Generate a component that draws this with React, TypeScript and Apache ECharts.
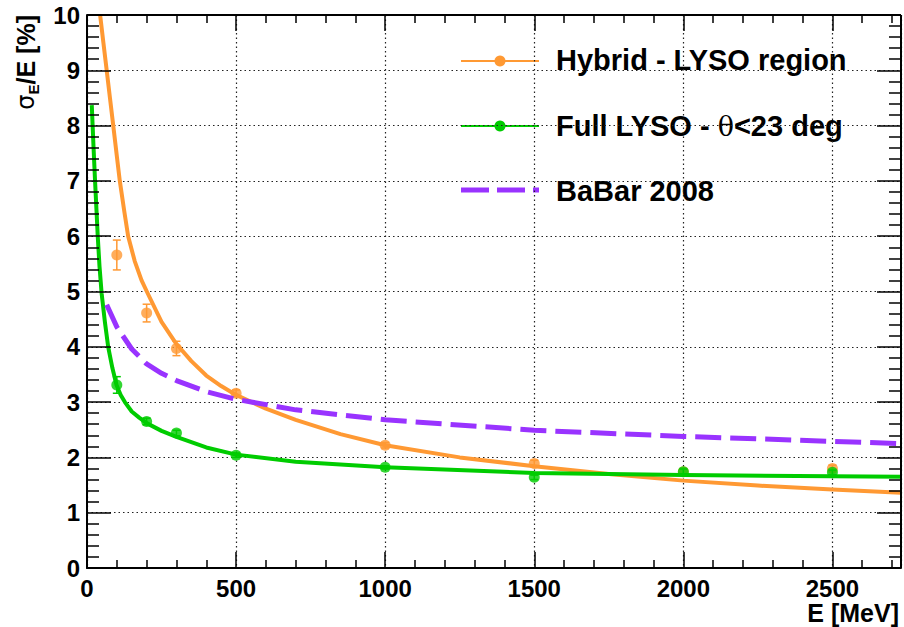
import React, { useEffect, useRef } from "react";
import * as echarts from "echarts";

// Measured points (E in MeV, resolution in %)
const energies = [100, 200, 300, 500, 1000, 1500, 2000, 2500];
const hybridRes = [5.66, 4.61, 3.97, 3.16, 2.22, 1.89, 1.74, 1.8];
const hybridErr = [0.27, 0.16, 0.13, 0.06, 0.05, 0.06, 0.05, 0.06];
const fullRes = [3.31, 2.65, 2.44, 2.04, 1.82, 1.64, 1.74, 1.73];
const fullErr = [0.15, 0.06, 0.05, 0.04, 0.03, 0.04, 0.05, 0.04];

// Fitted resolution curves
const hybridFitE = [44, 55, 66, 77, 88, 100, 110, 125, 138, 160, 183, 205, 250, 300, 350, 400, 450, 500, 600, 700, 850, 1000, 1250, 1500, 1750, 2000, 2250, 2500, 2730];
const hybridFitV = [10, 9.5, 9.0, 8.5, 8.0, 7.45, 7.0, 6.45, 6.0, 5.55, 5.2, 4.95, 4.45, 4.05, 3.74, 3.48, 3.29, 3.13, 2.88, 2.68, 2.42, 2.22, 2.0, 1.84, 1.7, 1.58, 1.49, 1.42, 1.36];
const fullFitE = [16, 22, 27, 32, 36, 42, 49, 60, 71, 85, 99, 113, 127, 150, 175, 200, 250, 300, 400, 500, 700, 1000, 1500, 2000, 2500, 2730];
const fullFitV = [8.37, 7.6, 7.0, 6.45, 6.0, 5.45, 4.97, 4.45, 4.0, 3.62, 3.31, 3.13, 3.0, 2.83, 2.72, 2.62, 2.48, 2.37, 2.18, 2.05, 1.92, 1.82, 1.72, 1.68, 1.66, 1.65];
const babarE = [66, 100, 150, 200, 250, 300, 400, 500, 700, 1000, 1500, 2000, 2500, 2730];
const babarV = [4.76, 4.36, 3.96, 3.69, 3.52, 3.39, 3.19, 3.05, 2.86, 2.68, 2.49, 2.38, 2.29, 2.25];

// Axis ticks
const xMajorTicks = [0, 500, 1000, 1500, 2000, 2500];
const xMinorTicks = [100, 200, 300, 400, 600, 700, 800, 900, 1100, 1200, 1300, 1400, 1600, 1700, 1800, 1900, 2100, 2200, 2300, 2400, 2600, 2700];
const yMajorTicks = [0, 1, 2, 3, 4, 5, 6, 7, 8, 9, 10];
const yMinorTicks = yMajorTicks.slice(0, -1).flatMap((v) => [0.2, 0.4, 0.6, 0.8].map((f) => v + f));

const legendNames = ["Hybrid - LYSO region", "Full LYSO - θ<23 deg", "BaBar 2008"];

const X_MAX = 2730;
const Y_MAX = 10;
const ORANGE = "#ff9933";
const GREEN = "#00cc00";
const VIOLET = "#9933ff";
const FONT = "Liberation Sans, Arial, sans-serif";

// plot area in pixels, used to turn tick lengths into axis units
const PLOT = { left: 87, right: 3, top: 15, bottom: 59, width: 904 - 87 - 3, height: 627 - 15 - 59 };
const xPerPx = X_MAX / PLOT.width;
const yPerPx = Y_MAX / PLOT.height;

const zip = (xs: number[], ys: number[]) => xs.map((x, i) => [x, ys[i]]);

function errorBars(color: string, values: number[], errs: number[], z: number) {
  return {
    type: "custom",
    data: energies.map((e, i) => [e, values[i], errs[i]]),
    renderItem: (_params: any, api: any) => {
      const x = api.value(0);
      const y = api.value(1);
      const err = api.value(2);
      const lo = api.coord([x, y - err]);
      const hi = api.coord([x, y + err]);
      const cap = 4;
      const style = { stroke: color, lineWidth: 1.5 };
      return {
        type: "group",
        children: [
          { type: "line", shape: { x1: lo[0], y1: lo[1], x2: hi[0], y2: hi[1] }, style },
          { type: "line", shape: { x1: lo[0] - cap, y1: lo[1], x2: lo[0] + cap, y2: lo[1] }, style },
          { type: "line", shape: { x1: hi[0] - cap, y1: hi[1], x2: hi[0] + cap, y2: hi[1] }, style },
        ],
      };
    },
    z,
  };
}

function markers(color: string, values: number[], z: number) {
  return {
    type: "scatter",
    data: zip(energies, values),
    symbol: "circle",
    symbolSize: 11,
    itemStyle: { color },
    z,
  };
}

// Inward tick marks on all four sides of the frame, as segments in data space
function tickSegments() {
  const segs: { coords: number[][] }[] = [];
  const addX = (v: number, px: number) => {
    const d = px * yPerPx;
    segs.push({ coords: [[v, 0], [v, d]] });
    segs.push({ coords: [[v, Y_MAX], [v, Y_MAX - d]] });
  };
  const addY = (v: number, px: number) => {
    const d = px * xPerPx;
    segs.push({ coords: [[0, v], [d, v]] });
    segs.push({ coords: [[X_MAX, v], [X_MAX - d, v]] });
  };
  xMajorTicks.forEach((v) => addX(v, 16));
  xMinorTicks.forEach((v) => addX(v, 8));
  yMajorTicks.forEach((v) => addY(v, 24));
  yMinorTicks.forEach((v) => addY(v, 12));
  return segs;
}

const labelStyle = {
  color: "#000",
  fontFamily: FONT,
  fontWeight: "bold",
  fontSize: 24,
  formatter: (v: number) => String(v),
};

export default function App() {
  const ref = useRef<HTMLDivElement>(null);

  useEffect(() => {
    if (!ref.current) return;
    const chart = echarts.init(ref.current, undefined, { renderer: "svg" });

    const frame = () => ({ show: true, lineStyle: { color: "#000", width: 2 } });
    const dotted = () => ({ show: true, lineStyle: { color: "#222", width: 1.2, type: [1.5, 3] } });

    const option: any = {
      animation: false,
      backgroundColor: "#fff",
      grid: { left: PLOT.left, right: PLOT.right, top: PLOT.top, bottom: PLOT.bottom },
      xAxis: [
        {
          type: "value",
          min: 0,
          max: X_MAX,
          interval: 500,
          position: "bottom",
          axisLine: frame(),
          axisTick: { show: false },
          axisLabel: { ...labelStyle, margin: 8, showMaxLabel: false },
          splitLine: dotted(),
        },
      ],
      yAxis: [
        {
          type: "value",
          min: 0,
          max: Y_MAX,
          interval: 1,
          position: "left",
          axisLine: frame(),
          axisTick: { show: false },
          axisLabel: { ...labelStyle, margin: 7 },
          splitLine: dotted(),
        },
      ],
      series: [
        {
          type: "line",
          name: legendNames[0],
          data: zip(hybridFitE, hybridFitV),
          showSymbol: false,
          lineStyle: { color: ORANGE, width: 4, join: "round" },
          z: 2,
        },
        errorBars(ORANGE, hybridRes, hybridErr, 3),
        markers(ORANGE, hybridRes, 4),
        {
          type: "line",
          name: legendNames[1],
          data: zip(fullFitE, fullFitV),
          showSymbol: false,
          lineStyle: { color: GREEN, width: 4, join: "round" },
          z: 5,
        },
        errorBars(GREEN, fullRes, fullErr, 5),
        markers(GREEN, fullRes, 6),
        {
          type: "line",
          name: legendNames[2],
          data: zip(babarE, babarV),
          showSymbol: false,
          lineStyle: { color: VIOLET, width: 5, type: [26, 9], cap: "butt" },
          z: 7,
        },
        // top and right edges of the frame
        {
          type: "lines",
          coordinateSystem: "cartesian2d",
          silent: true,
          clip: false,
          data: [
            { coords: [[0, Y_MAX], [X_MAX, Y_MAX]] },
            { coords: [[X_MAX, 0], [X_MAX, Y_MAX]] },
          ],
          lineStyle: { color: "#000", width: 2, opacity: 1 },
          z: 20,
        },
        // tick marks
        {
          type: "lines",
          coordinateSystem: "cartesian2d",
          silent: true,
          clip: false,
          data: tickSegments(),
          lineStyle: { color: "#000", width: 1.5, opacity: 1 },
          z: 20,
        },
      ],
      graphic: [
        // legend
        { type: "line", shape: { x1: 461, y1: 61, x2: 539, y2: 61 }, style: { stroke: ORANGE, lineWidth: 2 } },
        { type: "circle", shape: { cx: 500, cy: 61, r: 5.5 }, style: { fill: ORANGE } },
        {
          type: "text",
          x: 556,
          y: 60,
          style: { text: legendNames[0], fontFamily: FONT, fontWeight: "bold", fontSize: 29, fill: "#000", verticalAlign: "middle" },
        },
        { type: "line", shape: { x1: 461, y1: 126, x2: 539, y2: 126 }, style: { stroke: GREEN, lineWidth: 2 } },
        { type: "circle", shape: { cx: 500, cy: 126, r: 5.5 }, style: { fill: GREEN } },
        {
          type: "text",
          x: 556,
          y: 126,
          style: {
            text: "{b|Full LYSO - }{t|θ}{b|<23 deg}",
            verticalAlign: "middle",
            rich: {
              b: { fontFamily: FONT, fontWeight: "bold", fontSize: 29, fill: "#000" },
              t: { fontFamily: "DejaVu Serif, serif", fontWeight: "normal", fontSize: 27, fill: "#000" },
            },
          },
        },
        {
          type: "line",
          shape: { x1: 461, y1: 190, x2: 539, y2: 190 },
          style: { stroke: VIOLET, lineWidth: 5, lineDash: [28, 8] },
        },
        {
          type: "text",
          x: 556,
          y: 191,
          style: { text: legendNames[2], fontFamily: FONT, fontWeight: "bold", fontSize: 29, fill: "#000", verticalAlign: "middle" },
        },
        // axis titles
        {
          type: "text",
          x: 899,
          y: 613,
          style: { text: "E [MeV]", fontFamily: FONT, fontWeight: "bold", fontSize: 25, fill: "#000", align: "right", verticalAlign: "middle" },
        },
        {
          type: "text",
          x: 26,
          y: 15,
          rotation: Math.PI / 2,
          style: {
            text: "{s|σ}{sub|E}{b|/E [%]}",
            align: "right",
            verticalAlign: "middle",
            rich: {
              s: { fontFamily: "DejaVu Sans, sans-serif", fontSize: 24, fill: "#000", lineHeight: 30 },
              sub: { fontFamily: FONT, fontWeight: "bold", fontSize: 15, fill: "#000", verticalAlign: "bottom", lineHeight: 15 },
              b: { fontFamily: FONT, fontWeight: "bold", fontSize: 25, fill: "#000", lineHeight: 30 },
            },
          },
        },
      ],
    };

    chart.setOption(option);
    return () => chart.dispose();
  }, []);

  return (
    <div
      ref={ref}
      style={{ position: "absolute", left: 0, top: 0, width: 904, height: 627, background: "#fff" }}
    />
  );
}
